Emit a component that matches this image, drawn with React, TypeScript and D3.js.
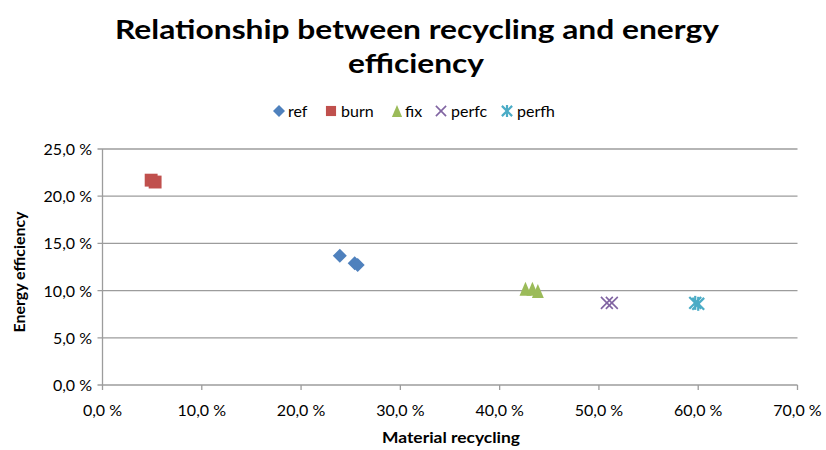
import React from "react";
import * as d3 from "d3";

// Scenario series: material recycling share (x) vs energy efficiency (y)
const seriesNames = ["ref", "burn", "fix", "perfc", "perfh"];
const seriesColors = ["#4F81BD", "#C0504D", "#9BBB59", "#8064A2", "#4BACC6"];
const refX = [0.239, 0.254, 0.257];
const refY = [0.137, 0.129, 0.127];
const burnX = [0.049, 0.053];
const burnY = [0.217, 0.215];
const fixX = [0.426, 0.433, 0.4385];
const fixY = [0.102, 0.102, 0.0995];
const perfcX = [0.508, 0.513];
const perfcY = [0.087, 0.087];
const perfhX = [0.597, 0.6];
const perfhY = [0.087, 0.086];
const xTicks = [0, 0.1, 0.2, 0.3, 0.4, 0.5, 0.6, 0.7];
const yTicks = [0, 0.05, 0.1, 0.15, 0.2, 0.25];

const seriesX = [refX, burnX, fixX, perfcX, perfhX];
const seriesY = [refY, burnY, fixY, perfcY, perfhY];

const W = 826;
const H = 450;
const FONT = "Lato, 'Open Sans', sans-serif";

const x = d3.scaleLinear().domain([0, 0.7]).range([102.5, 797.5]);
const y = d3.scaleLinear().domain([0, 0.25]).range([385, 149]);

const fmt = (v: number) => d3.format(".1f")(v * 100).replace(".", ",") + " %";

function Marker({ kind, cx, cy, s, color }: { kind: number; cx: number; cy: number; s: number; color: string }) {
  if (kind === 0) {
    const p = d3.path();
    p.moveTo(cx, cy - s);
    p.lineTo(cx + s, cy);
    p.lineTo(cx, cy + s);
    p.lineTo(cx - s, cy);
    p.closePath();
    return <path d={p.toString()} fill={color} />;
  }
  if (kind === 1) {
    return <rect x={cx - s * 0.92} y={cy - s * 0.92} width={s * 1.84} height={s * 1.84} fill={color} />;
  }
  if (kind === 2) {
    const p = d3.path();
    p.moveTo(cx, cy - s);
    p.lineTo(cx + s * 0.85, cy + s);
    p.lineTo(cx - s * 0.85, cy + s);
    p.closePath();
    return <path d={p.toString()} fill={color} />;
  }
  const h = s * 0.85;
  return (
    <g stroke={color} strokeWidth={kind === 4 ? 2.2 : 1.6} fill="none">
      <line x1={cx - h} y1={cy - h} x2={cx + h} y2={cy + h} />
      <line x1={cx - h} y1={cy + h} x2={cx + h} y2={cy - h} />
      {kind === 4 && <line x1={cx} y1={cy - s} x2={cx} y2={cy + s} />}
    </g>
  );
}

export default function App() {
  const legendItems = [
    { mx: 279, tx: 288 },
    { mx: 331, tx: 341 },
    { mx: 397, tx: 405 },
    { mx: 441, tx: 451 },
    { mx: 507, tx: 517 },
  ];
  return (
    <svg width={W} height={H} style={{ position: "absolute", left: 0, top: 0, background: "#fff" }}>
      <rect width={W} height={H} fill="#fff" />
      <g fontFamily={FONT} fontWeight={700} fill="#000" textAnchor="middle" fontSize={27}>
        <text x={417} y={39} textLength={604} lengthAdjust="spacingAndGlyphs">
          Relationship between recycling and energy
        </text>
        <text x={416} y={73} textLength={136} lengthAdjust="spacingAndGlyphs">
          efficiency
        </text>
      </g>

      {/* legend */}
      <g fontFamily={FONT} fontSize={16} fill="#000">
        {seriesNames.map((n, i) => (
          <g key={n}>
            <Marker kind={i} cx={legendItems[i].mx} cy={111} s={i === 1 ? 5.5 : 6} color={seriesColors[i]} />
            <text x={legendItems[i].tx} y={116.5}>{n}</text>
          </g>
        ))}
      </g>

      {/* gridlines */}
      <g stroke="#9c9c9c" strokeWidth={1.3}>
        {yTicks.map((t) => (
          <line key={t} x1={x(0) - 5} x2={x(0.7)} y1={y(t)} y2={y(t)} />
        ))}
        <line x1={x(0)} x2={x(0)} y1={y(0.25)} y2={y(0)} />
        {xTicks.map((t) => (
          <line key={t} x1={x(t)} x2={x(t)} y1={y(0)} y2={y(0) + 5} />
        ))}
      </g>

      {/* tick labels */}
      <g fontFamily={FONT} fontSize={16} fill="#000">
        {yTicks.map((t) => (
          <text key={t} x={92} y={y(t) + 6} textAnchor="end">{fmt(t)}</text>
        ))}
        {xTicks.map((t) => (
          <text key={t} x={x(t)} y={415.5} textAnchor="middle">{fmt(t)}</text>
        ))}
      </g>

      {/* axis titles */}
      <g fontFamily={FONT} fontSize={16} fontWeight={700} fill="#000" textAnchor="middle">
        <text x={451} y={443} textLength={138} lengthAdjust="spacingAndGlyphs">Material recycling</text>
        <text
          transform={`translate(24.5,${(y(0) + y(0.25)) / 2 + 5}) rotate(-90)`}
          textLength={121}
          lengthAdjust="spacingAndGlyphs"
        >
          Energy efficiency
        </text>
      </g>

      {/* points */}
      {seriesX.map((xs, i) => (
        <g key={seriesNames[i]}>
          {xs.map((v, j) => (
            <Marker key={j} kind={i} cx={x(v)} cy={y(seriesY[i][j])} s={7} color={seriesColors[i]} />
          ))}
        </g>
      ))}
    </svg>
  );
}
